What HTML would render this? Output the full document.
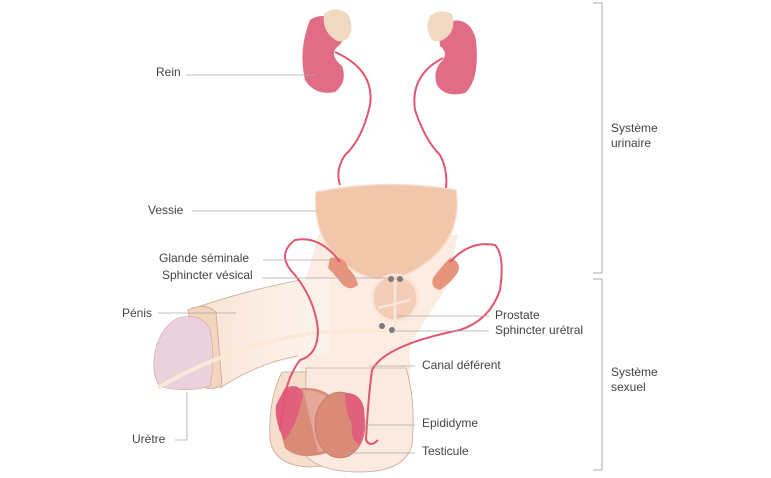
<!DOCTYPE html>
<html><head><meta charset="utf-8"><style>
html,body{margin:0;padding:0;background:#fff}
svg{display:block}
text{font-family:"Liberation Sans",sans-serif;font-size:12px;fill:#444}
.l{stroke:#aaa;stroke-width:0.8;fill:none}
</style></head><body>
<svg width="771" height="478" viewBox="0 0 771 478" xmlns="http://www.w3.org/2000/svg">
<defs>
<linearGradient id="bg" x1="0" y1="0" x2="1" y2="0">
<stop offset="0" stop-color="#f8e2d3"/><stop offset="0.6" stop-color="#fcefe6"/><stop offset="1" stop-color="#fdf3ec"/>
</linearGradient>
</defs>
<!-- body light area -->
<path d="M318 235 L458 235 L445 290 L425 320 L410 345 L410 380 L300 380 L300 300 L310 265 Z" fill="#fcece2"/>
<!-- scrotum -->
<path d="M282 372 Q268 400 270 440 Q275 466 310 467 L345 465 L345 372 Z" fill="#f7dfcd" stroke="#c9a896" stroke-width="0.8"/>
<path d="M306 368 L406 368 Q416 400 412 445 Q405 472 360 472 Q320 472 305 455 Z" fill="#fbeadf" stroke="#c9a896" stroke-width="0.8"/>
<!-- left testicle -->
<path d="M290 390 Q320 383 335 400 Q345 430 330 452 Q300 462 285 448 Q275 420 290 390 Z" fill="#d98b77"/>
<path d="M303 390 Q325 390 335 405 Q342 430 335 450 L318 452 Z" fill="#e4aa9c" opacity="0.9"/>
<path d="M285 388 Q300 382 303 395 Q300 410 296 420 Q290 435 284 440 Q274 420 276 405 Z" fill="#e0607e"/>
<!-- right testicle -->
<ellipse cx="340" cy="425" rx="25" ry="33" fill="#d98b77" stroke="#b87060" stroke-width="0.6"/>
<path d="M345 393 Q360 392 364 408 Q366 430 360 445 Q350 440 352 425 Q345 410 345 393 Z" fill="#e0607e"/>
<!-- penis shaft -->
<path d="M195 308 Q240 292 300 280 L330 278 L330 352 L300 358 Q260 362 220 388 L205 385 Z" fill="url(#bg)"/>
<path d="M195 308 Q240 292 300 280" stroke="#c9a896" stroke-width="0.8" fill="none"/>
<path d="M220 388 Q260 362 298 356" stroke="#c9a896" stroke-width="0.8" fill="none"/>
<path d="M188 310 Q205 302 216 312 L222 385 Q210 392 200 385 Z" fill="#f4d4bd" stroke="#c9a896" stroke-width="0.8"/>
<!-- glans -->
<path d="M178 318 Q202 312 210 330 Q216 360 210 386 Q190 393 160 387 Q150 372 156 348 Q162 326 178 318 Z" fill="#ebd1dc" stroke="#c9a896" stroke-width="0.6"/>
<!-- urethra -->
<path d="M158 388 Q230 345 320 332 L395 330" stroke="#fbe9d6" stroke-width="4" fill="none"/>
<!-- bladder -->
<path d="M316 192 Q385 178 456 190 Q462 232 432 258 Q405 280 385 280 Q355 278 332 252 Q313 228 316 192 Z" fill="#f2c6ab" stroke="#f7dccb" stroke-width="1.5"/>
<!-- prostate -->
<circle cx="395" cy="298" r="23" fill="#f3cdb8" stroke="#fbe6d8" stroke-width="3"/>
<path d="M395 280 L395 328 M378 308 L410 300" stroke="#fbe6d8" stroke-width="2.5" fill="none"/>
<!-- seminal glands -->
<path d="M330 258 Q345 255 348 268 Q356 275 358 285 Q350 292 342 284 Q335 275 328 268 Z" fill="#e8937b"/>
<path d="M450 258 Q462 262 458 272 Q452 282 440 290 Q430 288 433 278 Q440 268 450 258 Z" fill="#e8937b"/>
<!-- kidneys -->
<path d="M310 20 Q325 10 342 25 Q348 40 336 48 Q330 56 342 66 Q348 82 335 92 Q315 96 305 80 Q298 50 310 20 Z" fill="#e06c85"/>
<path d="M324 14 Q335 5 348 14 Q355 28 348 38 Q340 45 333 38 Q322 30 324 14 Z" fill="#efd9c0"/>
<path d="M447 22 Q470 15 476 40 Q480 80 465 93 Q445 98 437 85 Q432 70 443 60 Q448 52 440 46 Q438 30 447 22 Z" fill="#e06c85"/>
<path d="M430 16 Q440 8 452 14 Q456 28 448 36 Q440 44 432 40 Q424 28 430 16 Z" fill="#efd9c0"/>
<!-- ureters -->
<path d="M335 52 Q375 70 370 105 Q362 140 345 155 Q335 170 340 185" stroke="#e2566f" stroke-width="2" fill="none"/>
<path d="M443 58 Q410 75 415 110 Q425 140 440 155 Q448 170 446 188" stroke="#e2566f" stroke-width="2" fill="none"/>
<!-- vas deferens -->
<path d="M340 262 Q320 235 295 240 Q275 255 295 275 Q315 300 318 330 Q318 355 300 360 Q285 380 283 410 Q280 425 280 430" stroke="#e2566f" stroke-width="2" fill="none"/>
<path d="M450 262 Q470 240 495 245 Q505 255 500 290 Q490 320 460 330 Q385 345 372 370 Q368 400 366 440 Q370 448 378 440" stroke="#e2566f" stroke-width="2" fill="none"/>
<!-- sphincter dots -->
<circle cx="391" cy="279" r="3" fill="#7a7a80"/><circle cx="400" cy="279" r="3" fill="#7a7a80"/>
<circle cx="382" cy="326" r="3" fill="#7a7a80"/><circle cx="392" cy="330" r="3" fill="#7a7a80"/>
<!-- label lines -->
<path class="l" d="M186 75 L315 75"/>
<path class="l" d="M192 211 L318 211"/>
<path class="l" d="M263 260 L333 260"/>
<path class="l" d="M262 278 L390 278"/>
<path class="l" d="M158 313 L236 313"/>
<path class="l" d="M175 440 L187 440 L187 392"/>
<path class="l" d="M397 316 L489 316"/>
<path class="l" d="M393 331 L489 331"/>
<path class="l" d="M369 366 L415 366"/>
<path class="l" d="M364 425 L415 425"/>
<path class="l" d="M345 453 L415 453"/>
<!-- brackets -->
<path d="M593 3 L602 3 L602 273 L593 273 M593 279 L602 279 L602 470 L593 470" stroke="#aaa" stroke-width="1" fill="none"/>
<!-- labels -->
<text x="156" y="76">Rein</text>
<text x="148" y="214">Vessie</text>
<text x="159" y="262">Glande séminale</text>
<text x="162" y="279">Sphincter vésical</text>
<text x="122" y="317">Pénis</text>
<text x="132" y="443">Urètre</text>
<text x="495" y="319">Prostate</text>
<text x="495" y="334">Sphincter urétral</text>
<text x="422" y="369">Canal déférent</text>
<text x="422" y="427">Epididyme</text>
<text x="422" y="455">Testicule</text>
<text x="611" y="132">Système</text>
<text x="611" y="147">urinaire</text>
<text x="611" y="376">Système</text>
<text x="611" y="391">sexuel</text>
</svg>
</body></html>
